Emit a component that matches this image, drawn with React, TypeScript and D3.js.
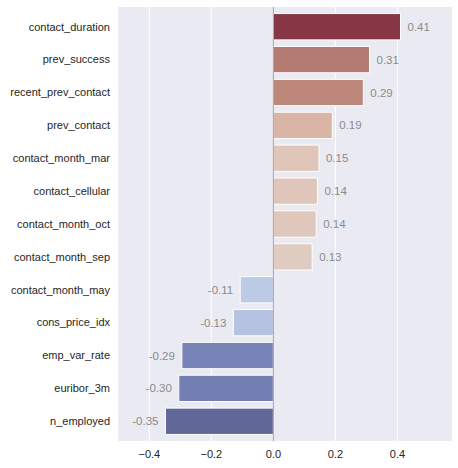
import * as d3 from "d3";

const features = [
  "contact_duration", "prev_success", "recent_prev_contact", "prev_contact",
  "contact_month_mar", "contact_cellular", "contact_month_oct", "contact_month_sep",
  "contact_month_may", "cons_price_idx", "emp_var_rate", "euribor_3m", "n_employed",
];
const correlations = [0.41, 0.31, 0.29, 0.19, 0.147, 0.142, 0.138, 0.125, -0.107, -0.129, -0.295, -0.305, -0.348];
const barColors = [
  "#873645", "#b47b72", "#bd877c", "#dab5a6", "#e0c5b9", "#e0c6ba", "#e0c7bb", "#e0cbc0",
  "#bccae6", "#b5c2e1", "#7884b7", "#7480b3", "#616799",
];
const xTicks = [-0.4, -0.2, 0.0, 0.2, 0.4];

export default function App() {
  const width = 458, height = 468;
  const margin = { top: 7, right: 6, bottom: 27, left: 118 };
  const x = d3.scaleLinear().domain([-0.501, 0.576]).range([margin.left, width - margin.right]);
  const y = d3.scaleBand().domain(features).range([margin.top, height - margin.bottom]).padding(0.2);
  const font = "Liberation Sans, Arial, sans-serif";

  return (
    <svg width={width} height={height} style={{ position: "absolute", left: 0, top: 0, background: "#fff" }}>
      <rect x={margin.left} y={margin.top} width={width - margin.right - margin.left}
        height={height - margin.bottom - margin.top} fill="#eaeaf2" />
      {xTicks.map((t) => (
        <g key={t}>
          <line x1={x(t)} x2={x(t)} y1={margin.top} y2={height - margin.bottom} stroke="#fff" strokeWidth={1} />
          <text x={x(t)} y={height - margin.bottom + 17} textAnchor="middle" fontSize={11} fontFamily={font} fill="#262626">
            {d3.format(".1f")(t).replace("-", "\u2212")}
          </text>
        </g>
      ))}
      {features.map((f, i) => {
        const v = correlations[i];
        const y0 = y(f)!;
        const bw = y.bandwidth();
        return (
          <g key={f}>
            <rect x={Math.min(x(0), x(v))} y={y0} width={Math.abs(x(v) - x(0))} height={bw}
              fill={barColors[i]} stroke="#fff" strokeWidth={1} />
            <text x={margin.left - 8} y={y0 + bw / 2} dy="0.35em" textAnchor="end" fontSize={11} fontFamily={font} fill="#262626">
              {f}
            </text>
            <text x={v >= 0 ? x(v) + 7 : x(v) - 7} y={y0 + bw / 2} dy="0.35em" textAnchor={v >= 0 ? "start" : "end"}
              fontSize={11.5} fontFamily={font} fill="#8a8a8a">
              {v.toFixed(2)}
            </text>
          </g>
        );
      })}
      <line x1={x(0)} x2={x(0)} y1={margin.top} y2={height - margin.bottom} stroke="#a0a0a0" strokeWidth={1} />
    </svg>
  );
}
